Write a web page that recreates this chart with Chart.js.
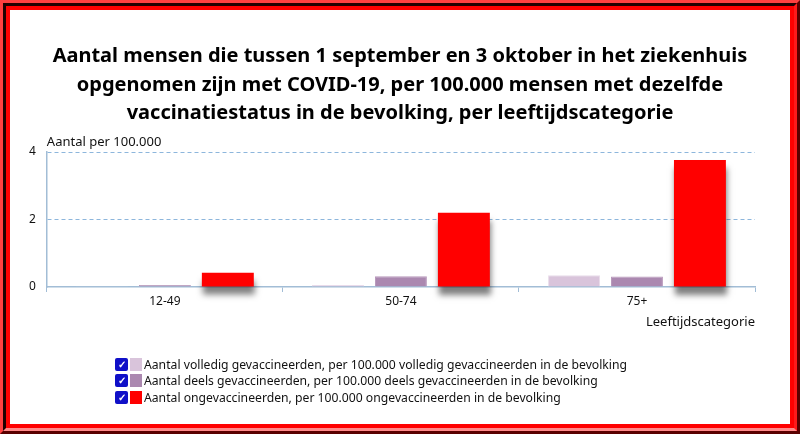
<!DOCTYPE html>
<html lang="nl">
<head>
<meta charset="UTF-8">
<title>Ziekenhuisopnames per vaccinatiestatus</title>
<script src="https://cdn.jsdelivr.net/npm/chart.js"></script>
<style>
    body {
        margin: 0;
        font-family: "Noto Sans", sans-serif;
        background: #fff;
    }
    #wrap {
        position: relative;
        width: 800px;
        height: 434px;
        overflow: hidden;
    }
    #chart {
        position: absolute;
        left: 0;
        top: 0;
    }
    #titel {
        position: absolute;
        left: 0;
        top: 41px;
        width: 800px;
        text-align: center;
        font-size: 20px;
        font-weight: bold;
        line-height: 28.5px;
        color: #000;
    }
    /* rode lijst rondom */
    .frame {
        position: absolute;
        pointer-events: none;
        box-sizing: border-box;
    }
    #f1 { left: 0; top: 0; width: 800px; height: 434px;
          border: 3px solid; border-color: #ff4040 #5a0000 #5a0000 #ff4040; }
    #f2 { left: 3px; top: 3px; width: 794px; height: 428px;
          border: 3px solid; border-color: #200000 #ff1a1a #ff8a8a #200000; }
    #f3 { left: 6px; top: 6px; width: 788px; height: 422px;
          border: 4px solid #ff0000; }
    #legend {
        position: absolute;
        left: 115px;
        top: 356px;
        font-size: 12.2px;
        color: #111;
    }
    .item {
        display: flex;
        align-items: center;
        height: 16.5px;
        white-space: nowrap;
    }
    .check {
        width: 13px;
        height: 13px;
        background: #1010c8;
        border-radius: 2px;
        color: #fff;
        font-size: 10px;
        line-height: 13px;
        text-align: center;
        font-weight: bold;
        margin-right: 2px;
    }
    .swatch {
        width: 12px;
        height: 13px;
        margin-right: 2px;
    }
</style>
</head>
<body>
<div id="wrap">
    <canvas id="chart" width="800" height="434"></canvas>
    <div id="titel"></div>
    <div id="legend"></div>
    <div class="frame" id="f1"></div>
    <div class="frame" id="f2"></div>
    <div class="frame" id="f3"></div>
</div>

<script>
    const titel = [
        'Aantal mensen die tussen 1 september en 3 oktober in het ziekenhuis',
        'opgenomen zijn met COVID-19, per 100.000 mensen met dezelfde',
        'vaccinatiestatus in de bevolking, per leeftijdscategorie'
    ];
    const leeftijden = ['12-49', '50-74', '75+'];
    const volledig = [0.01, 0.06, 0.35];
    const deels = [0.06, 0.32, 0.31];
    const ongevaccineerd = [0.42, 2.2, 3.76];
    const reeksNamen = [
        'Aantal volledig gevaccineerden, per 100.000 volledig gevaccineerden in de bevolking',
        'Aantal deels gevaccineerden, per 100.000 deels gevaccineerden in de bevolking',
        'Aantal ongevaccineerden, per 100.000 ongevaccineerden in de bevolking'
    ];
    const kleuren = ['#d9c4db', '#ab88b0', '#ff0000'];
    const randKleuren = ['#e9dcea', '#b899bc', '#ff7a7a'];
    const yTicks = [0, 2, 4];

    const asKleur = '#a2bdd6';

    document.getElementById('titel').innerHTML = titel.join('<br>');

    // schaduw onder de rode staven
    const schaduw = {
        id: 'schaduw',
        beforeDatasetDraw(chart, args) {
            if (args.index !== 2) return;
            const ctx = chart.ctx;
            ctx.save();
            ctx.shadowColor = 'rgba(0,0,0,0.5)';
            ctx.shadowBlur = 6;
            ctx.shadowOffsetX = 1;
            ctx.shadowOffsetY = 8;
        },
        afterDatasetDraw(chart, args) {
            if (args.index !== 2) return;
            chart.ctx.restore();
        }
    };

    // horizontale titel van de y-as boven het plotvlak
    const yTitel = {
        id: 'yTitel',
        afterDraw(chart) {
            const ctx = chart.ctx;
            ctx.save();
            ctx.font = '13px "Noto Sans"';
            ctx.fillStyle = '#111';
            ctx.textBaseline = 'bottom';
            ctx.fillText('Aantal per 100.000', chart.chartArea.left, chart.chartArea.top - 3);
            ctx.restore();
        }
    };

    const datasets = [volledig, deels, ongevaccineerd].map((d, i) => ({
        label: reeksNamen[i],
        data: d,
        backgroundColor: kleuren[i],
        borderColor: randKleuren[i],
        borderWidth: i === 2 ? 0 : 1,
        categoryPercentage: 0.8,
        barPercentage: 0.825,
        clip: i === 2 ? false : undefined
    }));

    new Chart(document.getElementById('chart'), {
        type: 'bar',
        data: { labels: leeftijden, datasets: datasets },
        plugins: [schaduw, yTitel],
        options: {
            responsive: false,
            animation: false,
            layout: { padding: { top: 152, left: 18, right: 45, bottom: 100 } },
            plugins: {
                legend: { display: false },
                tooltip: { enabled: false },
                title: { display: false }
            },
            scales: {
                x: {
                    grid: {
                        display: true,
                        drawOnChartArea: false,
                        drawTicks: true,
                        tickLength: 5,
                        color: asKleur,
                        offset: true
                    },
                    border: { color: asKleur, width: 1.5 },
                    ticks: { color: '#111', font: { family: 'Noto Sans', size: 12 }, padding: 2 },
                    title: {
                        display: true,
                        text: 'Leeftijdscategorie',
                        align: 'end',
                        color: '#111',
                        font: { family: 'Noto Sans', size: 13 },
                        padding: { top: 4 }
                    }
                },
                y: {
                    min: 0,
                    max: 4,
                    afterBuildTicks(axis) {
                        axis.ticks = yTicks.map(v => ({ value: v }));
                    },
                    grid: {
                        drawTicks: false,
                        color: ctx => ctx.tick && ctx.tick.value === 0 ? 'rgba(0,0,0,0)' : '#8db6dc',
                        lineWidth: 1
                    },
                    border: { color: asKleur, width: 1.5, dash: [4, 3] },
                    ticks: { color: '#111', font: { family: 'Noto Sans', size: 12 }, padding: 11 }
                }
            }
        }
    });

    // legenda met aangevinkte vakjes
    const legenda = document.getElementById('legend');
    reeksNamen.forEach((naam, i) => {
        const rij = document.createElement('div');
        rij.className = 'item';
        rij.innerHTML = '<span class="check">&#10003;</span>' +
            '<span class="swatch" style="background:' + kleuren[i] + '"></span>' +
            '<span>' + naam + '</span>';
        legenda.appendChild(rij);
    });
</script>
</body>
</html>
